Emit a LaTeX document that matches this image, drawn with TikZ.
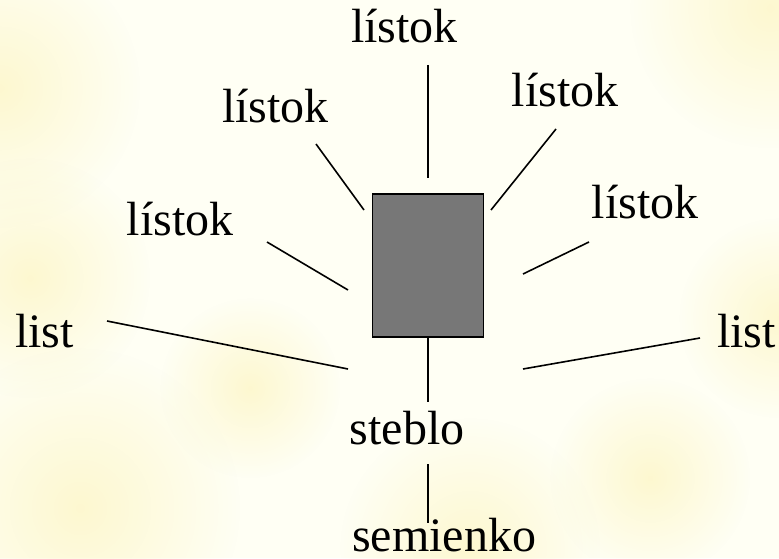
\documentclass[tikz,border=0pt]{standalone}
\usepackage{fontspec}
\setmainfont{Liberation Serif}
\usetikzlibrary{fadings}
\definecolor{bgbase}{HTML}{FFFFF4}
\definecolor{blob}{HTML}{FCF3B8}
\definecolor{boxgray}{HTML}{777777}
\tikzfading[name=softdisc, inner color=transparent!40, outer color=transparent!100]
\tikzset{
  lbl/.style={inner sep=0pt, anchor=base, font=\fontsize{48}{58}\selectfont},
  conn/.style={line width=1.6pt, black},
  stembox/.style={draw=black, line width=1.6pt, fill=boxgray},
  glow/.style={fill=blob, path fading=softdisc}
}
\begin{document}
\begin{tikzpicture}[x=1pt,y=1pt]
\useasboundingbox (0,0) rectangle (779,558);
\begin{scope}
\clip (0,0) rectangle (779,558);
\fill[bgbase] (0,0) rectangle (779,558);
\fill[glow] (0,470) circle (140);
\fill[glow] (30,280) circle (120);
\fill[glow] (80,50) circle (160);
\fill[glow] (470,10) circle (130);
\fill[glow] (770,550) circle (140);
\fill[glow] (779,240) circle (100);
\fill[glow] (250,170) circle (90);
\fill[glow] (650,80) circle (100);
\end{scope}

% box
\node[stembox, minimum width=111pt, minimum height=143pt, inner sep=0pt] (box) at (428,292.5) {};

% labels
\node[lbl] (ltop) at (404.5,515) {lístok};
\node[lbl] (lul) at (275.5,435) {lístok};
\node[lbl] (lur) at (565,451) {lístok};
\node[lbl] (lml) at (180,323) {lístok};
\node[lbl] (lmr) at (645,340) {lístok};
\node[lbl] (listl) at (44.5,211) {list};
\node[lbl] (listr) at (746.5,211) {list};
\node[lbl] (steblo) at (407,114) {steblo};
\node[lbl, anchor=base west] (semienko) at (352,7) {semienko};

% connector end points
\coordinate (t1) at (428,493); \coordinate (t2) at (428,380);
\coordinate (ul1) at (316,414); \coordinate (ul2) at (364,348);
\coordinate (ur1) at (556,429); \coordinate (ur2) at (491,348);
\coordinate (ml1) at (267,316); \coordinate (ml2) at (348,268);
\coordinate (mr1) at (589,316); \coordinate (mr2) at (523,284);
\coordinate (ll1) at (107,237); \coordinate (ll2) at (348,189);
\coordinate (rl1) at (700,220); \coordinate (rl2) at (523,189);
\coordinate (st2) at (428,156);
\coordinate (se1) at (428,94); \coordinate (se2) at (428,35);

\draw[conn] (t1) -- (t2);
\draw[conn] (ul1) -- (ul2);
\draw[conn] (ur1) -- (ur2);
\draw[conn] (ml1) -- (ml2);
\draw[conn] (mr1) -- (mr2);
\draw[conn] (ll1) -- (ll2);
\draw[conn] (rl1) -- (rl2);
\draw[conn] (box.south) -- (st2);
\draw[conn] (se1) -- (se2);
\end{tikzpicture}
\end{document}
